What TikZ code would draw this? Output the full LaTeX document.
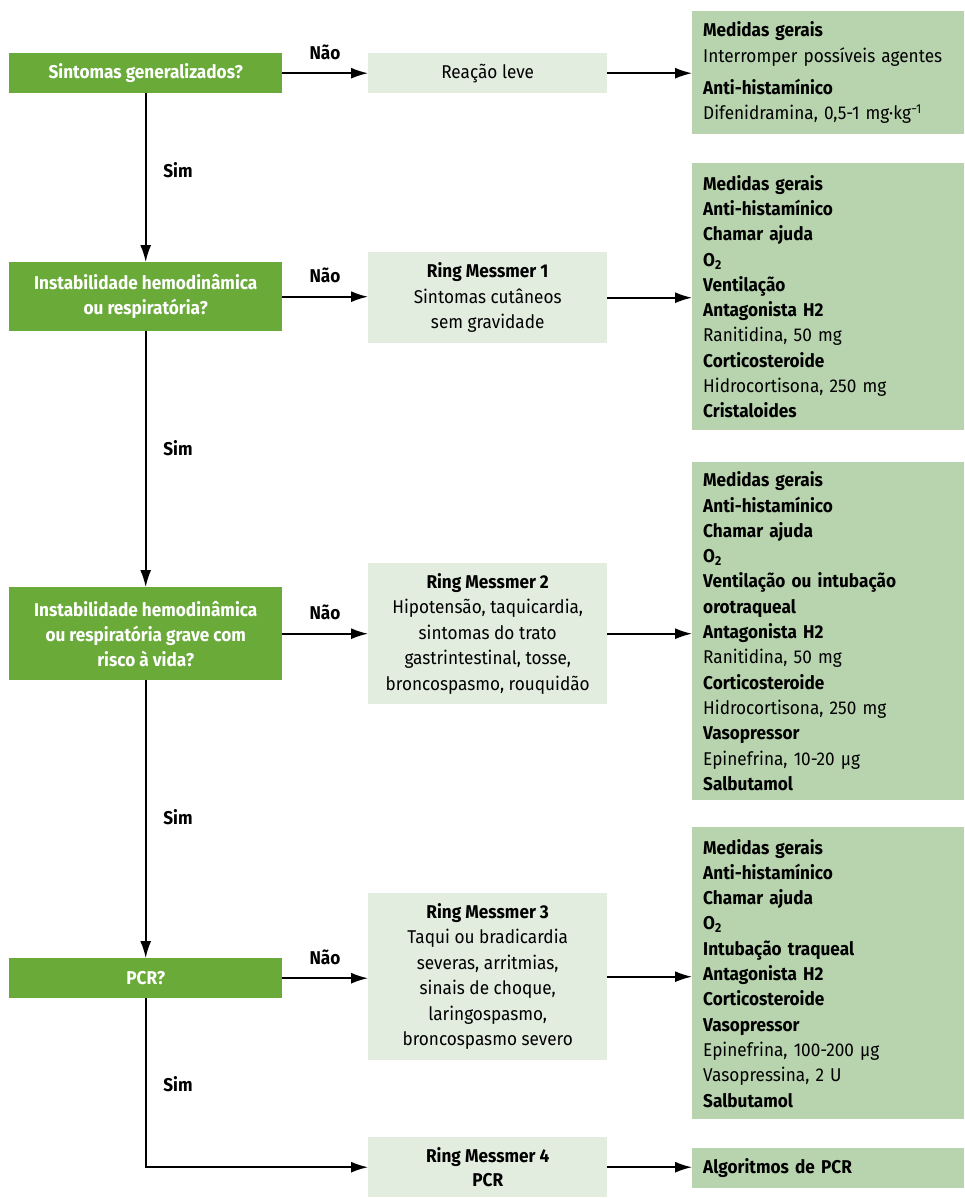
\documentclass[tikz,border=0pt]{standalone}
\usepackage{fontspec}
\setmainfont{Fira Sans}[FakeStretch=0.93]
\usetikzlibrary{arrows.meta,positioning}
\definecolor{dgreen}{HTML}{69AA38}
\definecolor{lgrey}{HTML}{E2EDE0}
\definecolor{mgreen}{HTML}{B8D4AF}
\tikzset{
  qbox/.style={fill=dgreen, text=white, font=\fontsize{18.5}{25}\selectfont\bfseries, align=center, minimum width=273pt, inner sep=0pt, anchor=north west},
  rbox/.style={fill=lgrey, text=black, font=\fontsize{18.5}{25.5}\selectfont, align=center, minimum width=239pt, inner sep=0pt, anchor=north west},
  tbox/.style={fill=mgreen, text=black, font=\fontsize{18.5}{25.3}\selectfont, align=left, text width=250pt, inner xsep=11pt, inner ysep=0pt, anchor=north west},
  lab/.style={font=\fontsize{18.5}{21}\selectfont\bfseries, inner sep=0pt},
  arr/.style={line width=1.6pt, -{Latex[length=17pt,width=11pt]}},
}
\begin{document}
\begin{tikzpicture}[x=1pt,y=-1pt]
\path[use as bounding box] (0,0) rectangle (964,1198);
% decision boxes
\node[qbox, minimum height=40pt] (A) at (9,53) {Sintomas generalizados?};
\node[qbox, minimum height=69pt] (B) at (9,262) {Instabilidade hemodinâmica\\ou respiratória?};
\node[qbox, minimum height=93pt] (C) at (9,587) {Instabilidade hemodinâmica\\ou respiratória grave com\\risco à vida?};
\node[qbox, minimum height=40pt] (D) at (9,958) {PCR?};
% middle boxes
\node[rbox, minimum height=40pt] (R0) at (368,53) {Reação leve};
\node[rbox, minimum height=91pt] (R1) at (368,252) {\textbf{Ring Messmer 1}\\Sintomas cutâneos\\sem gravidade};
\node[rbox, minimum height=141pt] (R2) at (368,563) {\textbf{Ring Messmer 2}\\Hipotensão, taquicardia,\\sintomas do trato\\gastrintestinal, tosse,\\broncospasmo, rouquidão};
\node[rbox, minimum height=167pt] (R3) at (368,893) {\textbf{Ring Messmer 3}\\Taqui ou bradicardia\\severas, arritmias,\\sinais de choque,\\laringospasmo,\\broncospasmo severo};
\node[rbox, minimum height=60pt, font=\fontsize{18.5}{24}\selectfont\bfseries] (R4) at (368,1137) {Ring Messmer 4\\PCR};
% treatment boxes
\node[tbox, minimum height=123pt] (T0) at (692,11) {\textbf{Medidas gerais}\\Interromper possíveis agentes\\[7pt]\textbf{Anti-histamínico}\\Difenidramina, 0,5-1 mg·kg\textsuperscript{−1}};
\node[tbox, minimum height=267pt] (T1) at (692,163) {\textbf{Medidas gerais}\\\textbf{Anti-histamínico}\\\textbf{Chamar ajuda}\\\textbf{O\textsubscript{2}}\\\textbf{Ventilação}\\\textbf{Antagonista H2}\\Ranitidina, 50 mg\\\textbf{Corticosteroide}\\Hidrocortisona, 250 mg\\\textbf{Cristaloides}};
\node[tbox, minimum height=338pt] (T2) at (692,462) {\textbf{Medidas gerais}\\\textbf{Anti-histamínico}\\\textbf{Chamar ajuda}\\\textbf{O\textsubscript{2}}\\\textbf{Ventilação ou intubação}\\\textbf{orotraqueal}\\\textbf{Antagonista H2}\\Ranitidina, 50 mg\\\textbf{Corticosteroide}\\Hidrocortisona, 250 mg\\\textbf{Vasopressor}\\Epinefrina, 10-20 µg\\\textbf{Salbutamol}};
\node[tbox, minimum height=292pt] (T3) at (692,827) {\textbf{Medidas gerais}\\\textbf{Anti-histamínico}\\\textbf{Chamar ajuda}\\\textbf{O\textsubscript{2}}\\\textbf{Intubação traqueal}\\\textbf{Antagonista H2}\\\textbf{Corticosteroide}\\\textbf{Vasopressor}\\Epinefrina, 100-200 µg\\Vasopressina, 2 U\\\textbf{Salbutamol}};
\node[tbox, minimum height=40pt] (T4) at (692,1148) {\textbf{Algoritmos de PCR}};
% vertical flow
\draw[arr] (A.south) -- (B.north);
\draw[arr] (B.south) -- (C.north);
\draw[arr] (C.south) -- (D.north);
\draw[arr] (D.south) |- (R4.west);
% horizontal flow
\draw[arr] (A.east) -- (A.east -| R0.west);
\draw[arr] (B.east) -- (B.east -| R1.west);
\draw[arr] (C.east) -- (C.east -| R2.west);
\draw[arr] (D.east) -- (D.east -| R3.west);
\draw[arr] (R0.east) -- (R0.east -| T0.west);
\draw[arr] (R1.east) -- (R1.east -| T1.west);
\draw[arr] (R2.east) -- (R2.east -| T2.west);
\draw[arr] (R3.east) -- (R3.east -| T3.west);
\draw[arr] (R4.east) -- (R4.east -| T4.west);
% labels
\node[lab] (n1) at (325,52) {Não};
\node[lab] (n2) at (325,275) {Não};
\node[lab] (n3) at (325,612) {Não};
\node[lab] (n4) at (325,957) {Não};
\node[lab] (s1) at (178,170) {Sim};
\node[lab] (s2) at (178,448) {Sim};
\node[lab] (s3) at (178,817) {Sim};
\node[lab] (s4) at (178,1084) {Sim};
\end{tikzpicture}
\end{document}
